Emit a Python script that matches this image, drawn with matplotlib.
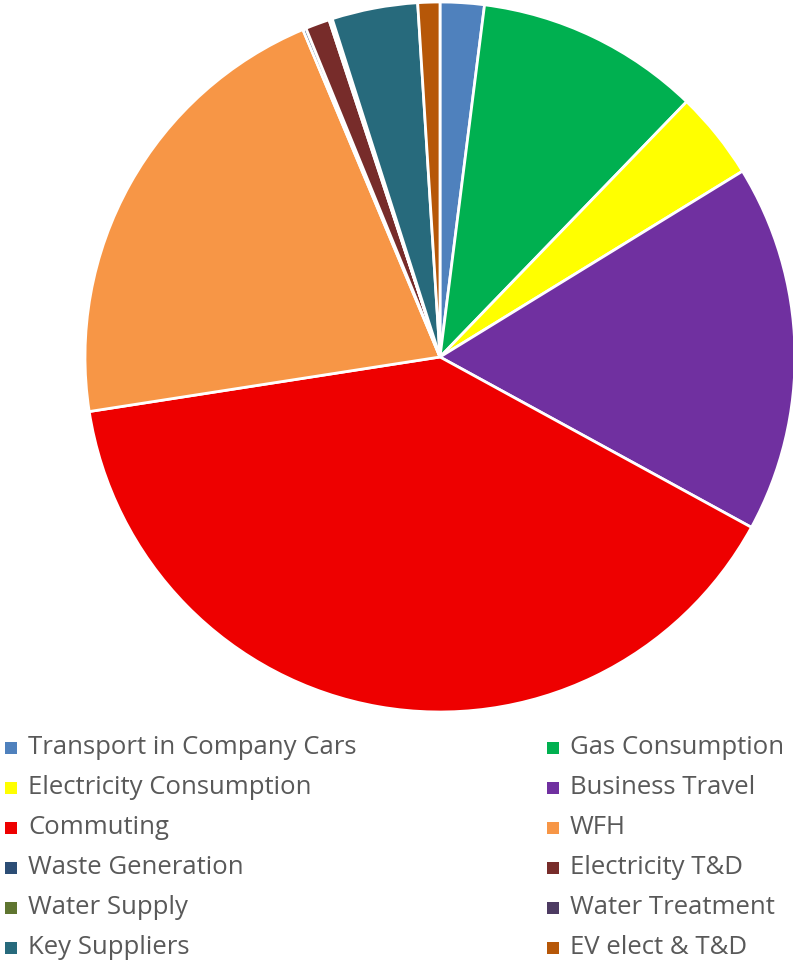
import matplotlib
matplotlib.use("Agg")
import matplotlib.pyplot as plt
from matplotlib.patches import Rectangle

categories = ["Transport in Company Cars", "Gas Consumption", "Electricity Consumption",
              "Business Travel", "Commuting", "WFH", "Waste Generation", "Electricity T&D",
              "Water Supply", "Water Treatment", "Key Suppliers", "EV elect & T&D"]
values = [2.0, 10.2, 4.0, 16.7, 39.5, 21.1, 0.15, 1.1, 0.05, 0.1, 3.9, 1.0]
colors = ["#4F81BD", "#00B050", "#FFFF00", "#7030A0", "#EE0000", "#F79646",
          "#2C4D75", "#772C2A", "#5F7530", "#4D3B62", "#276A7C", "#B65708"]

W, H = 793, 961
fig = plt.figure(figsize=(W / 100, H / 100), dpi=100)
cx, cy, r = 440, 357, 355
ax = fig.add_axes([(cx - r) / W, (H - cy - r) / H, 2 * r / W, 2 * r / H])
ax.pie(values, colors=colors, startangle=90, counterclock=False,
       wedgeprops=dict(edgecolor="white", linewidth=2))
ax.set_aspect("equal")
ax.set_xlim(-1, 1)
ax.set_ylim(-1, 1)

plt.rcParams['font.family'] = ['Open Sans', 'DejaVu Sans']
row_y = [748, 788, 828, 868, 908, 948]
col_marker_x = [5, 547]
col_text_x = [28, 570]
for i, (lab, col) in enumerate(zip(categories, colors)):
    c, rr = i % 2, i // 2
    y = row_y[rr]
    fig.add_artist(Rectangle((col_marker_x[c] / W, (H - y - 6) / H), 12 / W, 12 / H,
                             transform=fig.transFigure, facecolor=col, edgecolor="none"))
    fig.text(col_text_x[c] / W, (H - y) / H, lab, fontsize=18.5, color="#595959",
             va="center", ha="left", family=['Open Sans', 'DejaVu Sans'])

fig.savefig("out.png", dpi=100)
